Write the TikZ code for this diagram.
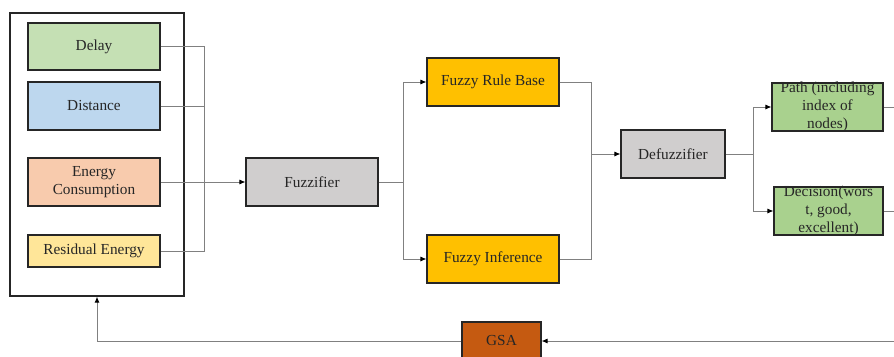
\documentclass[tikz,border=0pt]{standalone}
\usepackage{fontspec}
\setmainfont{Liberation Serif}
\usetikzlibrary{positioning}
\usetikzlibrary{math}
\usetikzlibrary{arrows.meta}
\definecolor{delaygreen}{HTML}{C5E0B4}
\definecolor{distblue}{HTML}{BDD7EE}
\definecolor{energypeach}{HTML}{F8CBAD}
\definecolor{residyellow}{HTML}{FFE699}
\definecolor{fuzzgray}{HTML}{D0CECE}
\definecolor{rulegold}{HTML}{FFC000}
\definecolor{outgreen}{HTML}{A9D18E}
\definecolor{gsarust}{HTML}{C55A11}
\tikzset{
	blk/.style={draw=black!85, line width=1.1pt, minimum width=132pt, minimum height=48pt,
		inner sep=1pt, align=center, text=black!85, font=\fontsize{15.3}{18}\selectfont},
	wire/.style={draw=black!50, line width=0.9pt},
	feed/.style={wire, -{Latex[length=6pt,width=5pt,color=black]}},
	lbl/.style={align=center, text=black!85, font=\fontsize{15.3}{18}\selectfont, inner sep=0pt}
}

\begin{document}
\begin{tikzpicture}[x=1pt,y=-1pt]
	\tikzmath{\busx=204; \splitx=403; \mergex=591; \forkx=753; \rimx=894; \backy=341;}
	\useasboundingbox (0,0) rectangle (894,356);

	% input panel
	\node[draw=black!85, line width=1.2pt, minimum width=174pt, minimum height=283pt] (panel) at (97,154.5) {};
	\node[blk, fill=delaygreen, minimum height=47pt] (delay) at (94,46.5) {Delay};
	\node[blk, fill=distblue] (dist) at (94,106) {Distance};
	\node[blk, fill=energypeach] (energy) at (94,182) {Energy\\Consumption};
	\node[blk, fill=residyellow, minimum height=32pt] (resid) at (94,251) {Residual Energy};

	% fuzzy stages
	\node[blk, fill=fuzzgray] (fuzz) at (312,182) {Fuzzifier};
	\node[blk, fill=rulegold] (rule) at (493,82) {Fuzzy Rule Base};
	\node[blk, fill=rulegold] (infer) at (493,259) {Fuzzy Inference};
	\node[blk, fill=fuzzgray, minimum width=104pt] (defuzz) at (673,154) {Defuzzifier};

	% outputs, text spills over the boxes
	\node[blk, fill=outgreen, minimum width=111pt,
		label={[lbl]center:Path (including\\index of\\nodes)}] (path) at (827.5,107) {};
	\node[blk, fill=outgreen, minimum width=109pt,
		label={[lbl]center:Decision(wors\\t, good,\\excellent)}] (decision) at (828.5,211) {};

	\node[blk, fill=gsarust, minimum width=79pt, minimum height=40pt, text depth=0pt] (gsa) at (501.5,\backy+1) {};
	\node[lbl] at (501.5,\backy) {GSA};

	% inputs to fuzzifier
	\coordinate (bus) at (\busx,0);
	\draw[wire] (delay.east) -| (bus |- resid.east) -- (resid.east);
	\draw[wire] (dist.east) -- (bus |- dist.east);
	\draw[feed] (energy.east) -- (fuzz.west);

	% fuzzifier to rule base and inference
	\coordinate (split) at (\splitx,0);
	\draw[feed] (fuzz.east) -- (split |- fuzz.east) |- (rule.west);
	\draw[feed] (split |- fuzz.east) |- (infer.west);

	% into defuzzifier
	\coordinate (merge) at (\mergex,0);
	\draw[wire] (rule.east) -| (merge |- infer.east) -- (infer.east);
	\draw[feed] (merge |- defuzz.west) -- (defuzz.west);

	% defuzzifier to outputs
	\coordinate (fork) at (\forkx,0);
	\draw[feed] (defuzz.east) -- (fork |- defuzz.east) |- (path.west);
	\draw[feed] (fork |- defuzz.east) |- (decision.west);
	\coordinate (rim) at (\rimx,0);
	\draw[wire] (path.east) -- (rim |- path.east);
	\draw[wire] (decision.east) -- (rim |- decision.east);

	% feedback through GSA
	\coordinate (back) at (\rimx,\backy);
	\draw[feed] (back) -- (gsa.east |- back);
	\draw[feed] (gsa.west |- back) -| (panel.south);
\end{tikzpicture}
\end{document}
